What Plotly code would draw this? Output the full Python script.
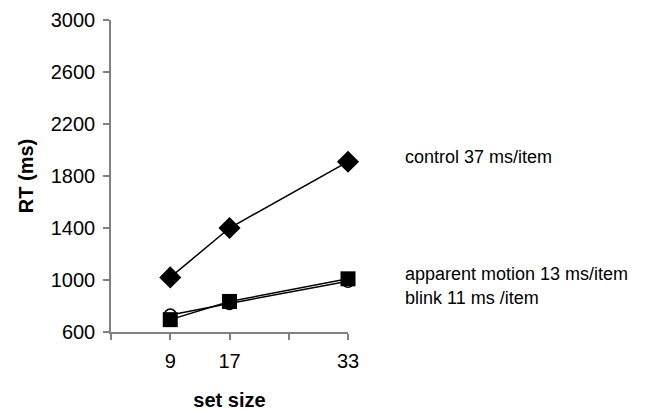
import plotly.graph_objects as go

set_size = [9, 17, 33]
control = [1020, 1400, 1910]
apparent_motion = [695, 835, 1009]
blink = [730, 820, 990]

x_tickvals = [1, 9, 17, 25, 33]
x_ticktext = ["", "9", "17", "", "33"]
y_tickvals = [600, 1000, 1400, 1800, 2200, 2600, 3000]

labels = ["control 37 ms/item", "apparent motion 13 ms/item", "blink 11 ms /item"]
label_y = [1950, 1048, 858]

FONT = "Liberation Sans, Arial, sans-serif"

fig = go.Figure()
fig.add_trace(go.Scatter(
    x=set_size, y=blink, mode="lines+markers", cliponaxis=False,
    line=dict(color="black", width=1.5),
    marker=dict(symbol="circle", size=12, color="white", line=dict(color="black", width=1.5)),
))
fig.add_trace(go.Scatter(
    x=set_size, y=apparent_motion, mode="lines+markers", cliponaxis=False,
    line=dict(color="black", width=1.5),
    marker=dict(symbol="square", size=15, color="black"),
))
fig.add_trace(go.Scatter(
    x=set_size, y=control, mode="lines+markers", cliponaxis=False,
    line=dict(color="black", width=1.5),
    marker=dict(symbol="diamond", size=17, color="black"),
))

for t, yv in zip(labels, label_y):
    fig.add_annotation(x=1.232, xref="paper", y=yv, yref="y", text=t,
                       showarrow=False, xanchor="left", yanchor="middle",
                       font=dict(family=FONT, size=18, color="black"))

fig.update_layout(
    width=666, height=411,
    margin=dict(l=111, r=318, t=20, b=79),
    plot_bgcolor="white", paper_bgcolor="white",
    showlegend=False,
    font=dict(family=FONT, size=20, color="black"),
)
fig.update_xaxes(
    range=[1, 33], tickvals=x_tickvals, ticktext=x_ticktext, automargin=False,
    showgrid=False, zeroline=False, showline=True, linecolor="#808080", linewidth=1.5,
    ticks="outside", ticklen=6, tickcolor="#808080", tickwidth=1.5,
    ticklabelstandoff=4,
    tickfont=dict(family=FONT, size=20, color="black"),
    title=dict(text="<b>set size</b>", font=dict(family=FONT, size=20, color="black"), standoff=22),
)
fig.update_yaxes(
    range=[600, 3000], tickvals=y_tickvals, automargin=False,
    showgrid=False, zeroline=False, showline=True, linecolor="#808080", linewidth=1.5,
    ticks="outside", ticklen=6, tickcolor="#808080", tickwidth=1.5,
    ticklabelstandoff=4,
    tickfont=dict(family=FONT, size=20, color="black"),
    title=dict(text="<b>RT (ms)</b>", font=dict(family=FONT, size=20, color="black"), standoff=12),
)

fig.write_html("out.html")
